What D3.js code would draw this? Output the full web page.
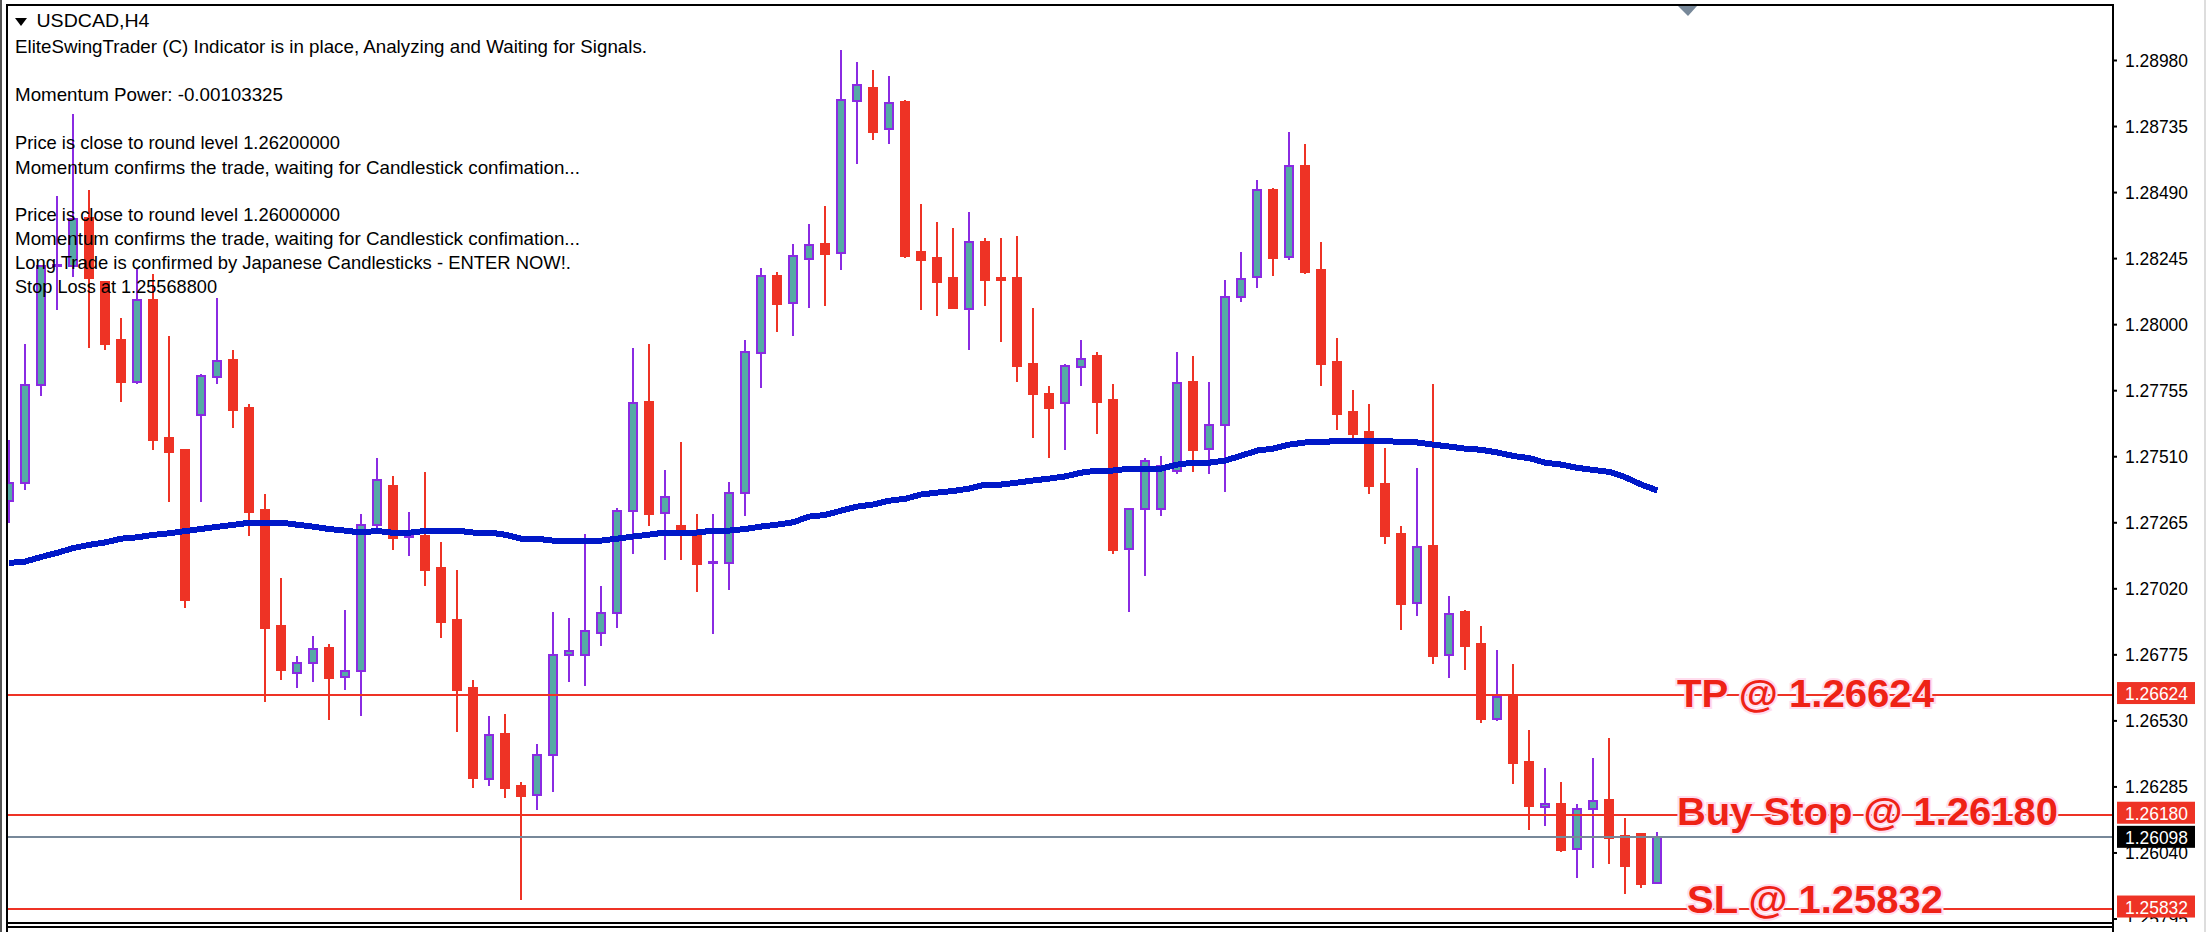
<!DOCTYPE html>
<html>
<head>
<meta charset="utf-8">
<script src="https://cdn.jsdelivr.net/npm/d3@7"></script>
<style>
  html, body { margin: 0; padding: 0; background: #fff; overflow: hidden; }
  svg { display: block; }
  text { font-family: "Liberation Sans", sans-serif; }
</style>
</head>
<body>
<svg id="chart" width="2206" height="932"></svg>
<script>
  // USDCAD H4 candles
  var opens = [1.27343,1.27410,1.27775,1.28215,1.28217,1.28393,1.28157,1.27942,1.27787,1.28090,1.27578,1.27534,1.27662,1.27803,1.27867,1.27689,1.27311,1.26880,1.26705,1.26742,1.26799,1.26690,1.26712,1.27254,1.27400,1.27209,1.27214,1.27096,1.26903,1.26650,1.26312,1.26480,1.26287,1.26252,1.26401,1.26772,1.26772,1.26853,1.26928,1.27306,1.27712,1.27298,1.27251,1.27224,1.27113,1.27113,1.27373,1.27892,1.28179,1.28078,1.28241,1.28298,1.28263,1.28827,1.28877,1.28723,1.28825,1.28268,1.28246,1.28172,1.28055,1.28305,1.28172,1.28172,1.27853,1.27741,1.27707,1.27840,1.27882,1.27719,1.27165,1.27313,1.27313,1.27454,1.27786,1.27536,1.27625,1.28100,1.28174,1.28498,1.28248,1.28587,1.28201,1.27860,1.27674,1.27600,1.27407,1.27222,1.26965,1.27177,1.26772,1.26932,1.26814,1.26534,1.26623,1.26376,1.26208,1.26220,1.26052,1.26200,1.26235,1.26101,1.26109,1.25926];
  var highs = [1.27571,1.27927,1.28214,1.28476,1.28780,1.28498,1.28157,1.28023,1.28204,1.28185,1.27956,1.27534,1.27815,1.28097,1.27905,1.27704,1.27370,1.27059,1.26769,1.26843,1.26814,1.26940,1.27296,1.27504,1.27437,1.27303,1.27452,1.27192,1.27088,1.26680,1.26547,1.26554,1.26302,1.26443,1.26932,1.26910,1.27222,1.27029,1.27318,1.27912,1.27927,1.27459,1.27563,1.27296,1.27296,1.27415,1.27942,1.28209,1.28194,1.28298,1.28372,1.28439,1.29018,1.28973,1.28943,1.28921,1.28832,1.28446,1.28379,1.28357,1.28416,1.28320,1.28320,1.28327,1.28060,1.27771,1.27853,1.27942,1.27897,1.27778,1.27316,1.27504,1.27511,1.27897,1.27882,1.27786,1.28164,1.28268,1.28535,1.28505,1.28713,1.28669,1.28305,1.27949,1.27756,1.27704,1.27541,1.27251,1.27467,1.27778,1.26992,1.26940,1.26880,1.26792,1.26740,1.26495,1.26354,1.26302,1.26220,1.26391,1.26465,1.26168,1.26109,1.26116];
  var lows = [1.27261,1.27385,1.27734,1.28053,1.28174,1.27912,1.27905,1.27712,1.27778,1.27534,1.27341,1.26947,1.27341,1.27778,1.27615,1.27214,1.26599,1.26680,1.26650,1.26673,1.26532,1.26643,1.26547,1.27237,1.27163,1.27140,1.27029,1.26836,1.26487,1.26280,1.26287,1.26242,1.25864,1.26198,1.26265,1.26673,1.26658,1.26806,1.26873,1.27148,1.27251,1.27125,1.27125,1.27007,1.26851,1.27014,1.27289,1.27764,1.27971,1.27956,1.28060,1.28068,1.28201,1.28595,1.28684,1.28669,1.28246,1.28053,1.28031,1.28060,1.27905,1.28068,1.27934,1.27786,1.27578,1.27504,1.27534,1.27771,1.27593,1.27148,1.26932,1.27066,1.27289,1.27444,1.27452,1.27444,1.27378,1.28083,1.28134,1.28179,1.28238,1.28186,1.27771,1.27608,1.27558,1.27370,1.27185,1.26866,1.26918,1.26740,1.26688,1.26717,1.26519,1.26527,1.26294,1.26124,1.26139,1.26042,1.25946,1.25983,1.25998,1.25886,1.25908,1.25926];
  var closes = [1.27412,1.27775,1.28214,1.28219,1.28390,1.28173,1.27927,1.27786,1.28088,1.27571,1.27526,1.26977,1.27806,1.27865,1.27682,1.27303,1.26873,1.26717,1.26744,1.26796,1.26688,1.26715,1.27256,1.27420,1.27207,1.27214,1.27088,1.26895,1.26643,1.26317,1.26477,1.26280,1.26250,1.26403,1.26774,1.26789,1.26863,1.26930,1.27308,1.27709,1.27296,1.27360,1.27218,1.27111,1.27118,1.27375,1.27895,1.28177,1.28075,1.28251,1.28295,1.28261,1.28830,1.28889,1.28713,1.28822,1.28253,1.28238,1.28157,1.28060,1.28303,1.28164,1.28164,1.27845,1.27741,1.27689,1.27843,1.27872,1.27712,1.27163,1.27316,1.27494,1.27472,1.27783,1.27534,1.27627,1.28102,1.28169,1.28496,1.28246,1.28585,1.28194,1.27853,1.27667,1.27593,1.27400,1.27214,1.26962,1.27175,1.26769,1.26923,1.26806,1.26534,1.26618,1.26371,1.26213,1.26218,1.26050,1.26203,1.26232,1.26094,1.25990,1.25923,1.26098];

  // moving average, one value per candle
  var ma = [1.27114,1.27119,1.27136,1.27151,1.27169,1.27181,1.27190,1.27204,1.27209,1.27218,1.27224,1.27232,1.27240,1.27248,1.27255,1.27263,1.27264,1.27264,1.27256,1.27249,1.27240,1.27234,1.27227,1.27233,1.27226,1.27226,1.27233,1.27234,1.27234,1.27227,1.27227,1.27219,1.27204,1.27204,1.27197,1.27197,1.27197,1.27197,1.27204,1.27212,1.27219,1.27227,1.27227,1.27227,1.27234,1.27234,1.27240,1.27249,1.27256,1.27265,1.27286,1.27292,1.27308,1.27323,1.27331,1.27345,1.27352,1.27368,1.27375,1.27381,1.27390,1.27405,1.27405,1.27412,1.27420,1.27427,1.27435,1.27449,1.27457,1.27457,1.27464,1.27464,1.27464,1.27479,1.27486,1.27486,1.27494,1.27512,1.27531,1.27538,1.27553,1.27561,1.27561,1.27568,1.27568,1.27568,1.27568,1.27561,1.27561,1.27553,1.27546,1.27538,1.27534,1.27524,1.27511,1.27503,1.27486,1.27479,1.27467,1.27459,1.27452,1.27432,1.27405,1.27383];

  var priceTicks = [1.28980,1.28735,1.28490,1.28245,1.28000,1.27755,1.27510,1.27265,1.27020,1.26775,1.26530,1.26285,1.26040,1.25795];
  var levels = [1.26624, 1.26180, 1.25832];
  var levelNames = ["TP @ 1.26624", "Buy Stop @ 1.26180", "SL @ 1.25832"];
  var bid = 1.26098;

  var comments = [
    "EliteSwingTrader (C) Indicator is in place, Analyzing and Waiting for Signals.",
    "Momentum Power: -0.00103325",
    "Price is close to round level 1.26200000",
    "Momentum confirms the trade, waiting for Candlestick confimation...",
    "Price is close to round level 1.26000000",
    "Momentum confirms the trade, waiting for Candlestick confimation...",
    "Long Trade is confirmed by Japanese Candlesticks - ENTER NOW!.",
    "Stop Loss at 1.25568800"
  ];
  var commentY = [47, 95, 143, 168, 215, 239, 263, 287];
  var commentW = [632, 268, 325, 565, 325, 565, 556, 202];

  var red = "#ee3325", teal = "#55aaa5", purple = "#8a2be2", blue = "#0018c8", slate = "#778899";
  var left = 8, right = 2112, top_ = 6, bottom = 922;
  var candles = d3.range(opens.length);

  var svg = d3.select("#chart");

  var x = d3.scaleLinear().domain([0, 103]).range([8.8, 1657.3]);
  var y = d3.scaleLinear().domain([1.28980, 1.25795]).range([60, 918.5]);

  svg.append("defs").append("clipPath").attr("id", "plot")
    .append("rect").attr("x", left).attr("y", top_).attr("width", right - left).attr("height", bottom - top_);
  // the axis group is translated, so this one is in its own coordinates
  svg.append("defs").append("clipPath").attr("id", "scale")
    .append("rect").attr("x", 0).attr("y", 0).attr("width", 92).attr("height", bottom);

  // outer window edges
  svg.append("rect").attr("x", 0).attr("y", 0).attr("width", 2).attr("height", 932).attr("fill", "#555");
  svg.append("rect").attr("x", 2204).attr("y", 0).attr("width", 2).attr("height", 932).attr("fill", "#ddd");

  var g = svg.append("g").attr("clip-path", "url(#plot)");

  // wicks
  g.append("g").selectAll("line").data(candles).join("line")
    .attr("x1", function(i) { return x(i); })
    .attr("x2", function(i) { return x(i); })
    .attr("y1", function(i) { return y(highs[i]); })
    .attr("y2", function(i) { return y(lows[i]); })
    .attr("stroke", function(i) { return closes[i] >= opens[i] ? purple : red; })
    .attr("stroke-width", 2)
    .attr("shape-rendering", "crispEdges");

  // bodies
  g.append("g").selectAll("rect").data(candles).join("rect")
    .attr("x", function(i) { return x(i) - 4; })
    .attr("width", 8)
    .attr("y", function(i) { return y(Math.max(opens[i], closes[i])); })
    .attr("height", function(i) { return Math.abs(y(opens[i]) - y(closes[i])); })
    .attr("fill", function(i) { return closes[i] >= opens[i] ? teal : red; })
    .attr("stroke", function(i) { return closes[i] >= opens[i] ? purple : red; })
    .attr("stroke-width", 2)
    .attr("shape-rendering", "crispEdges");

  // price levels
  g.append("g").selectAll("line").data(levels).join("line")
    .attr("x1", left).attr("x2", right)
    .attr("y1", function(d) { return y(d); })
    .attr("y2", function(d) { return y(d); })
    .attr("stroke", red).attr("stroke-width", 2).attr("shape-rendering", "crispEdges");
  g.append("line")
    .attr("x1", left).attr("x2", right)
    .attr("y1", y(bid)).attr("y2", y(bid))
    .attr("stroke", slate).attr("stroke-width", 2).attr("shape-rendering", "crispEdges");

  // moving average
  g.append("path").datum(candles)
    .attr("fill", "none")
    .attr("stroke", blue)
    .attr("stroke-width", 6)
    .attr("shape-rendering", "crispEdges")
    .attr("d", d3.line()
      .x(function(i) { return x(i); })
      .y(function(i) { return y(ma[i]); }));

  // big level labels
  var labelX = [1677, 1677, 1687];
  var labelW = [257, 381, 256];
  var labelBase = [707, 825, 913];
  svg.append("g").selectAll("text").data(levelNames).join("text")
    .attr("x", function(d, i) { return labelX[i]; })
    .attr("y", function(d, i) { return labelBase[i]; })
    .attr("textLength", function(d, i) { return labelW[i]; })
    .attr("lengthAdjust", "spacingAndGlyphs")
    .attr("font-size", 38)
    .attr("font-weight", "bold")
    .attr("fill", "#ee2216")
    .attr("stroke", "#fde")
    .attr("stroke-width", 4)
    .attr("paint-order", "stroke")
    .text(function(d) { return d; });

  // comments in the corner
  svg.append("g").selectAll("text").data(comments).join("text")
    .attr("x", 15)
    .attr("y", function(d, i) { return commentY[i] + 6; })
    .attr("textLength", function(d, i) { return commentW[i]; })
    .attr("lengthAdjust", "spacingAndGlyphs")
    .attr("font-size", 19)
    .attr("fill", "#000")
    .text(function(d) { return d; });

  svg.append("text")
    .attr("x", 36.5).attr("y", 27)
    .attr("textLength", 113).attr("lengthAdjust", "spacingAndGlyphs")
    .attr("font-size", 19).attr("fill", "#000")
    .text("USDCAD,H4");
  svg.append("path").attr("d", "M15,18 L27,18 L21,26 Z").attr("fill", "#000");

  // shift marker
  svg.append("path").attr("d", "M1678,6 L1697,6 L1688,16 Z").attr("fill", slate);

  // price scale
  var axis = svg.append("g")
    .attr("clip-path", "url(#scale)")
    .attr("transform", "translate(" + right + ",0)")
    .call(d3.axisRight(y).tickValues(priceTicks).tickFormat(d3.format(".5f")).tickSize(5).tickPadding(8));
  axis.select(".domain").remove();
  axis.selectAll("line").attr("stroke", "#000").attr("stroke-width", 2);
  axis.selectAll("text")
    .attr("font-size", 19)
    .attr("font-family", "Liberation Sans")
    .attr("fill", "#000")
    .attr("textLength", 63)
    .attr("lengthAdjust", "spacingAndGlyphs");

  // flags on the scale
  var flags = levels.concat([bid]);
  var flag = svg.append("g").selectAll("g").data(flags).join("g")
    .attr("transform", function(d) { return "translate(2117," + y(d) + ")"; });
  flag.append("rect")
    .attr("x", 0)
    .attr("y", function(d) { return d == bid ? -11 : -13; })
    .attr("width", 78).attr("height", 22)
    .attr("fill", function(d) { return d == bid ? "#000" : red; });
  flag.append("text")
    .attr("x", 8)
    .attr("y", function(d) { return d == bid ? 7 : 5; })
    .attr("textLength", 63).attr("lengthAdjust", "spacingAndGlyphs")
    .attr("font-size", 19).attr("fill", "#fff")
    .text(function(d) { return d3.format(".5f")(d); });

  // frame
  var frame = svg.append("g").attr("fill", "#000");
  frame.append("rect").attr("x", left - 2).attr("y", 4).attr("width", right - left + 4).attr("height", 2);
  frame.append("rect").attr("x", left - 2).attr("y", 4).attr("width", 2).attr("height", 928);
  frame.append("rect").attr("x", right).attr("y", 4).attr("width", 2).attr("height", 928);
  frame.append("rect").attr("x", left - 2).attr("y", 922).attr("width", right - left + 4).attr("height", 2);
  frame.append("rect").attr("x", left - 2).attr("y", 926).attr("width", right - left + 4).attr("height", 2);
</script>
</body>
</html>
